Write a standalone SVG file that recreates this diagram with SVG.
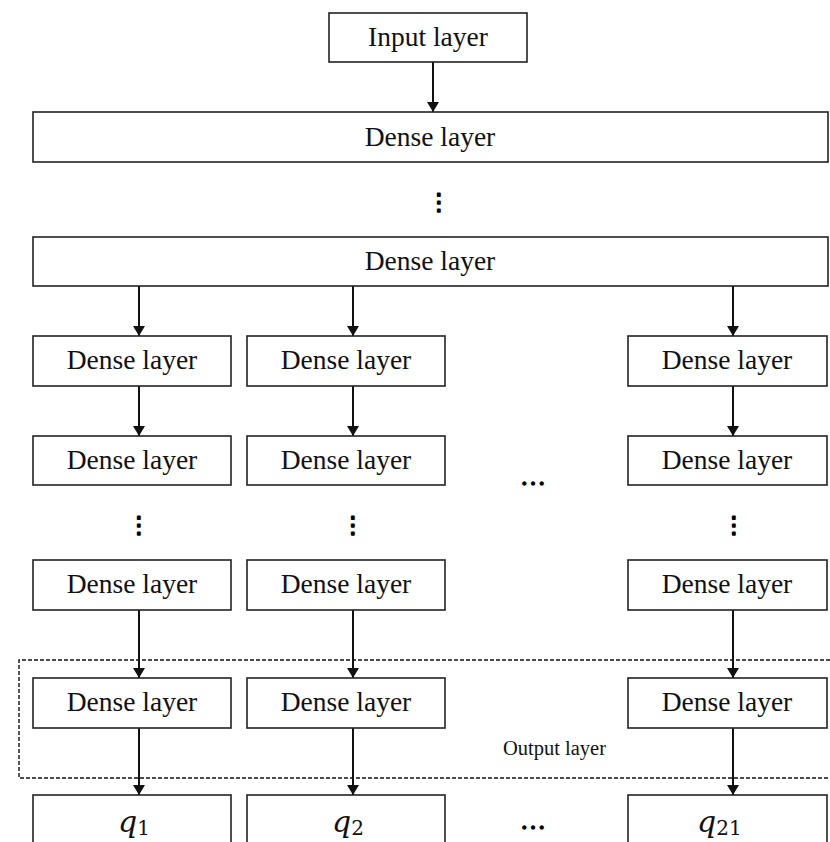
<svg xmlns="http://www.w3.org/2000/svg" width="830" height="842" viewBox="0 0 830 842">
<defs>
<style>
.box{fill:#fff;stroke:#222;stroke-width:1.6}
.lbl{font-family:"Liberation Serif","Times New Roman",serif;font-size:27.5px;fill:#111;text-anchor:middle}
.out{font-family:"Liberation Serif","Times New Roman",serif;font-size:20.5px;fill:#111}
.q{font-family:"DejaVu Serif","Liberation Serif",serif;font-style:italic;font-size:30px;fill:#111}
.sub{font-family:"DejaVu Serif","Liberation Serif",serif;font-style:normal;font-size:20px}
.arr{stroke:#111;stroke-width:2;fill:none;marker-end:url(#ah)}
.vd{font-family:"DejaVu Sans",sans-serif;font-size:23px;fill:#000;stroke:#000;stroke-width:1.5;stroke-linejoin:round;text-anchor:middle}
.hd{font-family:"Liberation Serif",serif;font-size:26px;fill:#000;stroke:#000;stroke-width:1.3;stroke-linejoin:round;text-anchor:middle}
</style>
<marker id="ah" viewBox="0 0 10 12" refX="10" refY="6" markerWidth="11" markerHeight="12" markerUnits="userSpaceOnUse" orient="auto">
<path d="M0,0 L10,6 L0,12 z" fill="#111"/>
</marker>
</defs>
<rect width="830" height="842" fill="#fff"/>

<g id="output-region">
<path d="M830,660 H19 V778 H830" fill="none" stroke="#111" stroke-width="1.4" stroke-dasharray="4,2"/>
<text class="out" x="503" y="755">Output layer</text>
</g>

<g id="connectors">
<line class="arr" x1="433" y1="62" x2="433" y2="112"/>
<line class="arr" x1="139" y1="286" x2="139" y2="336"/>
<line class="arr" x1="353" y1="286" x2="353" y2="336"/>
<line class="arr" x1="733" y1="286" x2="733" y2="336"/>
<line class="arr" x1="139" y1="386" x2="139" y2="436"/>
<line class="arr" x1="353" y1="386" x2="353" y2="436"/>
<line class="arr" x1="733" y1="386" x2="733" y2="436"/>
<line class="arr" x1="139" y1="610" x2="139" y2="678"/>
<line class="arr" x1="353" y1="610" x2="353" y2="678"/>
<line class="arr" x1="733" y1="610" x2="733" y2="678"/>
<line class="arr" x1="139" y1="728" x2="139" y2="795"/>
<line class="arr" x1="353" y1="728" x2="353" y2="795"/>
<line class="arr" x1="733" y1="728" x2="733" y2="795"/>
</g>

<g id="input"><rect class="box" x="329" y="13" width="198" height="49"/><text class="lbl" x="428" y="46">Input layer</text></g>
<g id="dense-wide-1"><rect class="box" x="33" y="112" width="795" height="50"/><text class="lbl" x="430" y="146">Dense layer</text></g>
<g id="vdots-wide"><text class="vd" x="439" y="210">⋮</text></g>
<g id="dense-wide-2"><rect class="box" x="33" y="237" width="795" height="49"/><text class="lbl" x="430" y="270">Dense layer</text></g>

<g id="c1r1"><rect class="box" x="33" y="336" width="198" height="50"/><text class="lbl" x="132" y="369">Dense layer</text></g>
<g id="c2r1"><rect class="box" x="247" y="336" width="198" height="50"/><text class="lbl" x="346" y="369">Dense layer</text></g>
<g id="c3r1"><rect class="box" x="628" y="336" width="199" height="50"/><text class="lbl" x="727" y="369">Dense layer</text></g>

<g id="c1r2"><rect class="box" x="33" y="436" width="198" height="49"/><text class="lbl" x="132" y="469">Dense layer</text></g>
<g id="c2r2"><rect class="box" x="247" y="436" width="198" height="49"/><text class="lbl" x="346" y="469">Dense layer</text></g>
<g id="c3r2"><rect class="box" x="628" y="436" width="199" height="49"/><text class="lbl" x="727" y="469">Dense layer</text></g>
<g id="hdots-mid"><text class="hd" x="533" y="485">…</text></g>

<g id="vdots-cols">
<text class="vd" x="139" y="533">⋮</text>
<text class="vd" x="353" y="533">⋮</text>
<text class="vd" x="734" y="533">⋮</text>
</g>

<g id="c1r3"><rect class="box" x="33" y="560" width="198" height="50"/><text class="lbl" x="132" y="593">Dense layer</text></g>
<g id="c2r3"><rect class="box" x="247" y="560" width="198" height="50"/><text class="lbl" x="346" y="593">Dense layer</text></g>
<g id="c3r3"><rect class="box" x="628" y="560" width="199" height="50"/><text class="lbl" x="727" y="593">Dense layer</text></g>

<g id="c1r4"><rect class="box" x="33" y="678" width="198" height="50"/><text class="lbl" x="132" y="711">Dense layer</text></g>
<g id="c2r4"><rect class="box" x="247" y="678" width="198" height="50"/><text class="lbl" x="346" y="711">Dense layer</text></g>
<g id="c3r4"><rect class="box" x="628" y="678" width="199" height="50"/><text class="lbl" x="727" y="711">Dense layer</text></g>

<g id="q1"><rect class="box" x="33" y="795" width="198" height="60"/><text class="q" x="118" y="832">q<tspan class="sub" dy="3">1</tspan></text></g>
<g id="q2"><rect class="box" x="247" y="795" width="198" height="60"/><text class="q" x="332" y="832">q<tspan class="sub" dy="3">2</tspan></text></g>
<g id="q21"><rect class="box" x="628" y="795" width="199" height="60"/><text class="q" x="697" y="832">q<tspan class="sub" dy="3">21</tspan></text></g>
<g id="hdots-bottom"><text class="hd" x="533" y="829">…</text></g>
</svg>
